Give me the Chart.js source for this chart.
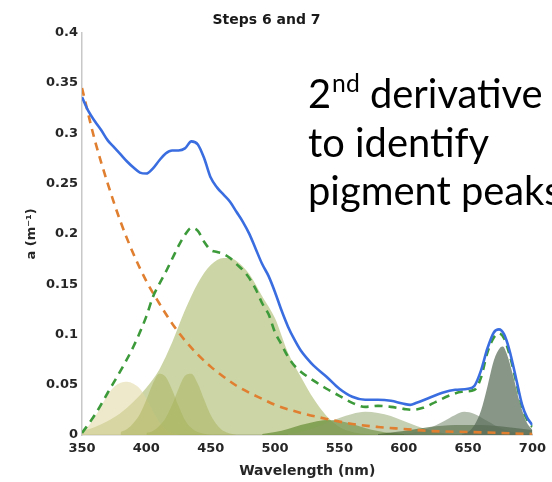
<!DOCTYPE html>
<html lang="en">
<head>
    <meta charset="UTF-8">
    <title>Steps 6 and 7</title>
    <script src="https://cdn.jsdelivr.net/npm/chart.js"></script>
    <style>
        body { margin: 0; background: #fff; }
        #grafico { display: block; }
    </style>
</head>
<body>
    <canvas id="grafico" width="552" height="482"></canvas>
</body>
</html>

<script>
    // absorption total (blue line)
    const wlTotal = [350, 355, 360, 365, 370, 375, 380, 385, 390, 395, 400, 405, 410, 415, 420, 425, 430, 435, 440, 445, 450, 455, 460, 465, 470, 475, 480, 485, 490, 495, 500, 505, 510, 515, 520, 525, 530, 540, 550, 560, 570, 580, 590, 600, 605, 610, 620, 630, 640, 650, 655, 660, 665, 670, 674, 678, 682, 687, 692, 696, 700];
    const aTotal = [0.336, 0.322, 0.312, 0.303, 0.293, 0.286, 0.279, 0.272, 0.266, 0.261, 0.260, 0.265, 0.273, 0.280, 0.283, 0.283, 0.285, 0.292, 0.289, 0.275, 0.256, 0.246, 0.239, 0.232, 0.222, 0.212, 0.200, 0.185, 0.170, 0.158, 0.142, 0.124, 0.108, 0.095, 0.084, 0.076, 0.069, 0.058, 0.046, 0.038, 0.035, 0.035, 0.034, 0.031, 0.030, 0.032, 0.037, 0.042, 0.045, 0.046, 0.049, 0.064, 0.086, 0.102, 0.105, 0.100, 0.085, 0.058, 0.030, 0.017, 0.010];

    // sum of gaussians (green dashed)
    const wlSoma = [350, 360, 370, 380, 390, 400, 405, 410, 415, 420, 425, 430, 435, 440, 445, 450, 455, 460, 465, 470, 475, 480, 485, 490, 495, 500, 505, 510, 515, 520, 530, 540, 550, 560, 570, 580, 590, 600, 607, 615, 625, 635, 645, 655, 660, 665, 670, 674, 678, 682, 687, 692, 696, 700];
    const aSoma = [0.002, 0.020, 0.042, 0.064, 0.088, 0.118, 0.137, 0.150, 0.162, 0.175, 0.188, 0.199, 0.206, 0.203, 0.192, 0.184, 0.182, 0.180, 0.176, 0.170, 0.164, 0.156, 0.145, 0.131, 0.120, 0.102, 0.090, 0.078, 0.069, 0.063, 0.054, 0.046, 0.039, 0.032, 0.028, 0.029, 0.028, 0.026, 0.025, 0.027, 0.033, 0.039, 0.043, 0.045, 0.057, 0.082, 0.097, 0.101, 0.096, 0.081, 0.055, 0.028, 0.015, 0.008];

    // CDOM / NAP (orange dashed)
    const wlCdom = [350, 360, 370, 380, 390, 400, 410, 420, 430, 440, 450, 460, 470, 480, 490, 500, 520, 540, 560, 580, 600, 620, 650, 700];
    const aCdom = [0.345, 0.293, 0.250, 0.212, 0.180, 0.153, 0.131, 0.111, 0.094, 0.080, 0.068, 0.058, 0.049, 0.042, 0.036, 0.030, 0.022, 0.016, 0.011, 0.008, 0.006, 0.004, 0.003, 0.001];

    // pigment gaussians
    const wlG1 = [350, 355, 360, 365, 370, 375, 380, 385, 390, 395, 400, 405, 410, 415, 420, 430];
    const aG1 = [0.004, 0.009, 0.018, 0.029, 0.040, 0.048, 0.052, 0.053, 0.051, 0.046, 0.036, 0.024, 0.013, 0.006, 0.002, 0];

    const wlG2 = [380, 385, 390, 395, 400, 405, 410, 415, 420, 425, 430, 435, 440, 450];
    const aG2 = [0.003, 0.006, 0.012, 0.021, 0.035, 0.051, 0.061, 0.058, 0.045, 0.029, 0.015, 0.007, 0.003, 0];

    const wlG3 = [400, 405, 410, 415, 420, 425, 430, 435, 440, 445, 450, 455, 460, 470];
    const aG3 = [0.002, 0.004, 0.009, 0.017, 0.030, 0.046, 0.059, 0.061, 0.051, 0.035, 0.020, 0.010, 0.004, 0];

    const wlG4 = [350, 360, 370, 380, 390, 400, 410, 420, 430, 440, 450, 460, 465, 470, 480, 490, 500, 510, 520, 530, 540, 550, 560, 570, 580];
    const aG4 = [0.004, 0.008, 0.014, 0.022, 0.033, 0.047, 0.065, 0.092, 0.124, 0.151, 0.169, 0.176, 0.176, 0.173, 0.160, 0.138, 0.116, 0.082, 0.058, 0.036, 0.019, 0.008, 0.003, 0.001, 0];

    const wlG5 = [490, 500, 510, 520, 530, 540, 550, 560, 570, 580, 590, 600, 610];
    const aG5 = [0.001, 0.003, 0.006, 0.010, 0.013, 0.015, 0.014, 0.011, 0.007, 0.004, 0.002, 0.001, 0];

    const wlG6 = [510, 520, 530, 540, 550, 560, 570, 580, 590, 600, 610, 620, 630, 640, 650];
    const aG6 = [0.001, 0.003, 0.007, 0.012, 0.017, 0.021, 0.023, 0.022, 0.019, 0.014, 0.009, 0.005, 0.002, 0.001, 0];

    const wlG7 = [600, 610, 620, 630, 640, 647, 655, 665, 675, 685, 695, 700];
    const aG7 = [0.001, 0.003, 0.007, 0.013, 0.020, 0.023, 0.021, 0.014, 0.007, 0.003, 0.001, 0];

    const wlG8 = [645, 650, 655, 660, 665, 670, 675, 677, 680, 685, 690, 695, 700];
    const aG8 = [0.001, 0.003, 0.010, 0.024, 0.048, 0.074, 0.087, 0.088, 0.081, 0.059, 0.033, 0.014, 0.005];

    const wlG9 = [580, 600, 620, 640, 660, 680, 700];
    const aG9 = [0.001, 0.004, 0.008, 0.010, 0.010, 0.008, 0.005];

    const xTicks = [350, 400, 450, 500, 550, 600, 650, 700];
    const yTicks = [0, 0.05, 0.1, 0.15, 0.2, 0.25, 0.3, 0.35, 0.4];

    const textoLinhas = ['to identify', 'pigment peaks'];

    function pontos(xs, ys) {
        return xs.map((x, i) => ({ x: x, y: ys[i] }));
    }

    function linha(label, xs, ys, cor, dash) {
        return {
            label: label,
            data: pontos(xs, ys),
            borderColor: cor,
            borderWidth: 2.6,
            borderDash: dash,
            pointRadius: 0,
            fill: false,
            cubicInterpolationMode: 'monotone'
        };
    }

    function gauss(label, xs, ys, cor) {
        return {
            label: label,
            data: pontos(xs, ys),
            borderWidth: 0,
            borderColor: 'rgba(0,0,0,0)',
            backgroundColor: cor,
            pointRadius: 0,
            fill: 'origin',
            cubicInterpolationMode: 'monotone'
        };
    }

    // annotation text, drawn on top
    const anotacao = {
        id: 'anotacao',
        afterDraw(chart) {
            const ctx = chart.ctx;
            ctx.save();
            ctx.fillStyle = '#000';
            ctx.textBaseline = 'alphabetic';
            ctx.textAlign = 'left';
            ctx.font = '39px Lato';
            let escala = 181 / ctx.measureText('to identify').width;
            let tam = 39 * escala;
            let x0 = 308;
            ctx.font = tam + 'px Lato';
            ctx.fillText('2', x0, 108);
            let w2 = ctx.measureText('2').width;
            ctx.font = (tam * 0.62) + 'px Lato';
            ctx.fillText('nd', x0 + w2 + 1, 92);
            let wnd = ctx.measureText('nd').width;
            ctx.font = tam + 'px Lato';
            ctx.fillText(' derivative', x0 + w2 + wnd + 1, 108);
            ctx.fillText(textoLinhas[0], x0, 157);
            ctx.fillText(textoLinhas[1], x0, 205);
            ctx.restore();
        }
    };

    const fonteEixo = { family: 'DejaVu Sans', size: 13, weight: 'bold' };

    const config = {
        type: 'line',
        data: {
            datasets: [
                linha('Total', wlTotal, aTotal, '#3a6ee0', []),
                linha('Soma', wlSoma, aSoma, '#3d9a3a', [8, 6]),
                linha('CDOM', wlCdom, aCdom, '#e07f30', [8, 6]),
                gauss('G8', wlG8, aG8, 'rgba(85, 105, 85, 0.7)'),
                gauss('G7', wlG7, aG7, 'rgba(105, 125, 95, 0.5)'),
                gauss('G9', wlG9, aG9, 'rgba(60, 90, 40, 0.6)'),
                gauss('G6', wlG6, aG6, 'rgba(140, 160, 100, 0.5)'),
                gauss('G5', wlG5, aG5, 'rgba(95, 135, 45, 0.65)'),
                gauss('G3', wlG3, aG3, 'rgba(165, 175, 85, 0.45)'),
                gauss('G2', wlG2, aG2, 'rgba(165, 175, 85, 0.45)'),
                gauss('G1', wlG1, aG1, 'rgba(225, 215, 160, 0.55)'),
                gauss('G4', wlG4, aG4, 'rgba(170, 185, 105, 0.6)')
            ]
        },
        options: {
            responsive: false,
            animation: false,
            layout: { padding: { top: 0, right: 19, left: 0, bottom: 0 } },
            plugins: {
                legend: { display: false },
                tooltip: { enabled: false },
                title: {
                    display: true,
                    text: 'Steps 6 and 7',
                    color: '#1a1a1a',
                    font: { family: 'DejaVu Sans', size: 14, weight: 'bold' },
                    padding: { top: 12, bottom: 4 }
                }
            },
            scales: {
                x: {
                    type: 'linear',
                    min: 350,
                    max: 700,
                    afterFit: s => { s.height = 47; },
                    afterBuildTicks: s => { s.ticks = xTicks.map(v => ({ value: v })); },
                    grid: { display: false, drawTicks: false },
                    border: { display: true, color: '#c8c8c8', width: 1.5 },
                    ticks: { color: '#262626', font: fonteEixo, padding: 6, maxRotation: 0 },
                    title: {
                        display: true,
                        text: 'Wavelength (nm)',
                        color: '#262626',
                        font: { family: 'DejaVu Sans', size: 14, weight: 'bold' },
                        padding: { top: 0, bottom: 2 }
                    }
                },
                y: {
                    min: 0,
                    max: 0.4,
                    afterFit: s => { s.width = 82; },
                    afterBuildTicks: s => { s.ticks = yTicks.map(v => ({ value: v })); },
                    grid: { display: false, drawTicks: false },
                    border: { display: true, color: '#c8c8c8', width: 1.5 },
                    ticks: {
                        color: '#262626',
                        font: fonteEixo,
                        padding: 4,
                        callback: v => String(+v.toFixed(2))
                    },
                    title: {
                        display: true,
                        text: 'a (m⁻¹)',
                        color: '#262626',
                        font: { family: 'DejaVu Sans', size: 13, weight: 'bold' },
                        padding: { top: 24, bottom: 0 }
                    }
                }
            }
        },
        plugins: [anotacao]
    };

    let myChart = new Chart(document.getElementById('grafico'), config);
</script>
